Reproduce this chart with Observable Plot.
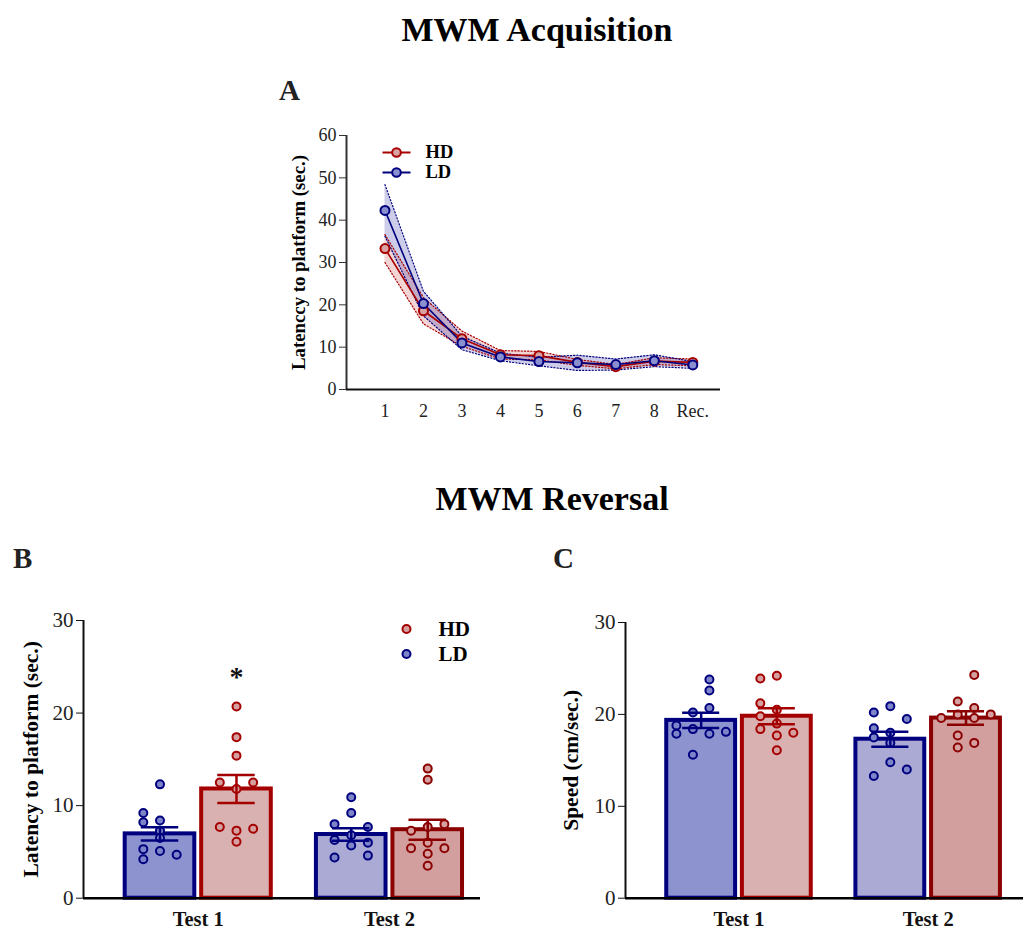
<!DOCTYPE html>
<html><head><meta charset="utf-8">
<script src="https://cdn.jsdelivr.net/npm/d3@7"></script>
<script src="https://cdn.jsdelivr.net/npm/@observablehq/plot@0.6"></script>
<style>
body{margin:0;background:#fff;}
#page{position:relative;width:1028px;height:930px;font-family:"Liberation Serif","Times New Roman",serif;color:#000;overflow:hidden;}
.title{position:absolute;text-align:center;font-weight:bold;font-size:34px;line-height:1;}
.letter{position:absolute;font-weight:bold;font-size:29px;line-height:1;color:#222;}
.panel{position:absolute;}
.panel svg{overflow:visible;}
</style></head><body>
<div id="page">
  <div class="title" style="left:0;width:1074px;top:13px;">MWM Acquisition</div>
  <div class="letter" style="left:279px;top:76px;">A</div>
  <div id="panelA" class="panel" style="left:250px;top:120px;"></div>
  <div class="title" style="left:0;width:1104px;top:482px;">MWM Reversal</div>
  <div class="letter" style="left:13px;top:544px;">B</div>
  <div class="letter" style="left:553px;top:544px;">C</div>
  <div id="panelB" class="panel" style="left:0px;top:600px;"></div>
  <div id="panelC" class="panel" style="left:540px;top:600px;"></div>
</div>
<script>
// ---------------- DATA ----------------
// Panel A: acquisition latency (mean ± SEM)
const sessions = ["1","2","3","4","5","6","7","8","Rec."];
const acqHDMean = [33.3, 18.6, 12.0, 8.2, 8.0, 6.4, 5.4, 6.7, 6.4];
const acqHDSem  = [3.3, 3.1, 1.8, 1.0, 1.0, 0.7, 0.5, 0.8, 0.8];
const acqLDMean = [42.3, 20.3, 11.0, 7.7, 6.6, 6.3, 5.9, 6.8, 5.8];
const acqLDSem  = [6.1, 2.9, 1.6, 0.9, 1.0, 1.8, 1.3, 1.4, 0.8];

const groups = ["LD", "HD"];
const tests = ["Test 1", "Test 2"];

// Panel B: reversal latency (individual animals; column = swarm column index)
const latLDTest1 = [12.3, 9.2, 8.2, 8.4, 7.3, 6.5, 5.3, 5.1, 4.7, 4.2];
const latLDTest1Col = [0, -1, -1, 0, 0, 0, -1, 0, 1, -1];
const latHDTest1 = [20.7, 17.4, 15.4, 12.5, 12.5, 11.8, 7.7, 7.5, 7.3, 6.1];
const latHDTest1Col = [0, 0, 0, -1, 1, 0, -1, 1, 0, 0];
const latLDTest2 = [10.9, 9.2, 8.0, 7.7, 6.8, 6.3, 6.0, 5.7, 4.4, 4.6];
const latLDTest2Col = [0, 0, -1, 1, 0, -1, 1, 0, -1, 1];
const latHDTest2 = [14.0, 12.8, 7.3, 7.7, 8.0, 5.4, 5.4, 6.0, 4.8, 3.5];
const latHDTest2Col = [0, 0, -1, 0, 1, -1, 1, 0, 0, 0];
const latMeanLD = [6.95, 6.88];
const latSemLD  = [0.72, 0.68];
const latMeanHD = [11.8, 7.4];
const latSemHD  = [1.52, 1.08];
const latSigTest = ["Test 1"];
const latSigGroup = ["HD"];

// Panel C: reversal swim speed
const spdLDTest1 = [23.8, 22.6, 20.7, 20.2, 18.8, 18.4, 17.9, 17.9, 18.1, 15.6];
const spdLDTest1Col = [0.5, 0.5, 0.5, -0.5, -1.5, -0.5, -1.5, 0.5, 1.5, -0.5];
const spdHDTest1 = [23.9, 24.2, 21.2, 20.5, 19.8, 19.0, 18.4, 17.7, 18.0, 16.1];
const spdHDTest1Col = [-1, 0, -1, 0, -1, 0, -1, 0, 1, 0];
const spdLDTest2 = [20.2, 20.9, 19.5, 18.5, 17.5, 18.0, 16.9, 14.8, 14.0, 13.3];
const spdLDTest2Col = [-1, 0, 1, -1, -1, 0, 0, 0, 1, -1];
const spdHDTest2 = [24.3, 21.4, 20.7, 19.6, 20.0, 19.6, 20.0, 17.7, 16.4, 16.9];
const spdHDTest2Col = [0.5, -0.5, 0.5, -1.5, -0.5, 0.5, 1.5, -0.5, -0.5, 0.5];
const spdMeanLD = [19.35, 17.3];
const spdSemLD  = [0.82, 0.82];
const spdMeanHD = [19.8, 19.6];
const spdSemHD  = [0.87, 0.73];

// ---------------- STYLE ----------------
const FONT = "Liberation Serif, Times New Roman, serif";
const lineCol = {HD: "#a80000", LD: "#00007f"};
const markerFill = {HD: "#d9a3a3", LD: "#8a8fd0"};
const bandFill = {HD: "#b30000", LD: "#1a1a9a"};
const barFill = {LD: ["#8c93cf", "#aaaad4"], HD: ["#d9b1b1", "#d29e9e"]};
const barStroke = {LD: ["#00007f", "#00007f"], HD: ["#a50000", "#8b0000"]};
const dotFill = {LD: "#7d84c8", HD: "#d6a0a0"};
const TEST_GAP = 2.5;   // position spacing between test clusters (in bar units)
const COL_STEP = 0.218; // swarm column width (in bar units)

// ---------------- PANEL A ----------------
function rowsA(name, mean, sem) {
  return sessions.map((s, i) => ({group: name, x: i + 1, y: mean[i], lo: mean[i] - sem[i], hi: mean[i] + sem[i]}));
}
const acqRows = {HD: rowsA("HD", acqHDMean, acqHDSem), LD: rowsA("LD", acqLDMean, acqLDSem)};
const lineSym = {draw(ctx) { ctx.moveTo(-14, 0); ctx.lineTo(14, 0); }};
const legendOrder = ["HD", "LD"];

const marksA = [];
for (const g of ["HD", "LD"]) {
  marksA.push(Plot.areaY(acqRows[g], {x: "x", y1: "lo", y2: "hi", fill: bandFill[g], fillOpacity: g === "LD" ? 0.22 : 0.17}));
}
for (const g of ["HD", "LD"]) {
  marksA.push(Plot.line(acqRows[g], {x: "x", y: "hi", stroke: lineCol[g], strokeWidth: 1.2, strokeDasharray: "1.2,2"}));
  marksA.push(Plot.line(acqRows[g], {x: "x", y: "lo", stroke: lineCol[g], strokeWidth: 1.2, strokeDasharray: "1.2,2"}));
}
for (const g of ["HD", "LD"]) {
  marksA.push(Plot.line(acqRows[g], {x: "x", y: "y", stroke: lineCol[g], strokeWidth: 1.6}));
}
for (const g of ["HD", "LD"]) {
  marksA.push(Plot.dot(acqRows[g], {x: "x", y: "y", r: 4.5, fill: markerFill[g], stroke: lineCol[g], strokeWidth: 2}));
}
legendOrder.forEach((g, i) => {
  marksA.push(Plot.dot([g], {frameAnchor: "top-left", dx: 50, dy: 17 + i * 20, symbol: lineSym, r: 5, fill: "none", stroke: lineCol[g], strokeWidth: 2}));
  marksA.push(Plot.dot([g], {frameAnchor: "top-left", dx: 50, dy: 17 + i * 20, r: 4.3, fill: markerFill[g], stroke: lineCol[g], strokeWidth: 2}));
  marksA.push(Plot.text([g], {frameAnchor: "top-left", dx: 79, dy: 17 + i * 20, text: d => d, textAnchor: "start", lineAnchor: "middle", fontWeight: "bold", fontSize: 18.5, fill: "#000"}));
});
marksA.push(
  Plot.ruleX([0], {stroke: "#333", strokeWidth: 2}),
  Plot.ruleY([0], {stroke: "#111", strokeWidth: 2.2}),
  Plot.axisY({ticks: d3.range(0, 61, 10), tickSize: 7, tickPadding: 3, fontSize: 18, label: null, stroke: "#333", fill: "#222"}),
  Plot.axisX({ticks: sessions.map((s, i) => i + 1), tickFormat: v => sessions[v - 1], tickSize: 0, tickPadding: 15, fontSize: 18, label: null, fill: "#222"}),
  Plot.text(["Latenccy to platform (sec.)"], {frameAnchor: "left", rotate: -90, dx: -48, text: d => d, textAnchor: "middle", lineAnchor: "middle", fontWeight: "bold", fontSize: 18.8, fill: "#000"})
);

const chartA = Plot.plot({
  width: 480, height: 300,
  marginLeft: 96, marginRight: 10, marginTop: 15, marginBottom: 31,
  style: {fontFamily: FONT, background: "transparent", overflow: "visible"},
  x: {domain: [0, 9.72]},
  y: {domain: [0, 60]},
  marks: marksA
});
document.getElementById("panelA").appendChild(chartA);

// ---------------- PANELS B & C ----------------
function buildBarPanel(cfg) {
  const bars = [];
  const pts = [];
  tests.forEach((t, ti) => {
    groups.forEach((g, gi) => {
      const pos = ti * TEST_GAP + gi;
      bars.push({test: t, group: g, pos, mean: cfg.means[g][ti], sem: cfg.sems[g][ti],
                 fill: barFill[g][ti], stroke: barStroke[g][ti]});
      const vals = cfg.values[g][ti], cols = cfg.cols[g][ti];
      vals.forEach((v, k) => pts.push({test: t, group: g, pos, v, col: cols[k], fill: dotFill[g], stroke: barStroke[g][ti]}));
    });
  });
  const sig = (cfg.sigTest || []).map((t, i) => {
    const b = bars.find(d => d.test === t && d.group === cfg.sigGroup[i]);
    const top = d3.max(pts.filter(p => p.test === t && p.group === b.group), p => p.v);
    return {pos: b.pos, top};
  });
  const marks = [
    Plot.rectY(bars, {x1: d => d.pos - 0.455, x2: d => d.pos + 0.455, y1: 0, y2: "mean", fill: "fill", stroke: "stroke", strokeWidth: 4}),
    Plot.dot(pts, {x: d => d.pos + d.col * COL_STEP, y: "v", r: 4, fill: "fill", stroke: "stroke", strokeWidth: 2}),
    Plot.ruleX(bars, {x: "pos", y1: d => d.mean - d.sem, y2: d => d.mean + d.sem, stroke: "stroke", strokeWidth: 2.5}),
    Plot.ruleY(bars, {y: d => d.mean + d.sem, x1: d => d.pos - 0.245, x2: d => d.pos + 0.245, stroke: "stroke", strokeWidth: 2.5}),
    Plot.ruleY(bars, {y: d => d.mean - d.sem, x1: d => d.pos - 0.245, x2: d => d.pos + 0.245, stroke: "stroke", strokeWidth: 2.5}),
    Plot.text(sig, {x: "pos", y: "top", text: () => "*", dy: -30, fontSize: 28, fontWeight: "bold", fill: "#111"}),
    Plot.ruleX([cfg.xDomain[0]], {stroke: "#111", strokeWidth: 2}),
    Plot.ruleY([0], {stroke: "#000", strokeWidth: 2.5}),
    Plot.axisY({ticks: [0, 10, 20, 30], tickSize: 7, tickPadding: 3, fontSize: 21, label: null, stroke: "#111", fill: "#222"}),
    Plot.axisX({ticks: tests.map((t, i) => i * TEST_GAP + 0.5), tickFormat: v => tests[Math.round((v - 0.5) / TEST_GAP)],
                tickSize: 0, tickPadding: 13, fontSize: 20.5, fontWeight: "bold", label: null, fill: "#111"}),
    Plot.text([cfg.yLabel], {frameAnchor: "left", rotate: -90, dx: cfg.labelDx, text: d => d, textAnchor: "middle", lineAnchor: "middle", fontWeight: "bold", fontSize: 21.5, fill: "#000"})
  ];
  if (cfg.legend) {
    ["HD", "LD"].forEach((g, i) => {
      marks.push(Plot.dot([g], {frameAnchor: "top-left", dx: cfg.legendDx, dy: cfg.legendDy + i * 25, r: 4, fill: dotFill[g], stroke: barStroke[g][0], strokeWidth: 2}));
      marks.push(Plot.text([g], {frameAnchor: "top-left", dx: cfg.legendDx + 32, dy: cfg.legendDy + i * 25, text: d => d, textAnchor: "start", lineAnchor: "middle", fontWeight: "bold", fontSize: 21, fill: "#000"}));
    });
  }
  return Plot.plot({
    width: cfg.width, height: 330,
    marginLeft: cfg.marginLeft, marginRight: cfg.marginRight, marginTop: cfg.marginTop, marginBottom: 32.3,
    style: {fontFamily: FONT, background: "transparent", overflow: "visible"},
    x: {domain: cfg.xDomain},
    y: {domain: [0, 30]},
    color: {type: "identity"},
    marks
  });
}

document.getElementById("panelB").appendChild(buildBarPanel({
  width: 490, marginLeft: 83, marginRight: 10, marginTop: 20, xDomain: [-1, 4.19],
  means: {LD: latMeanLD, HD: latMeanHD}, sems: {LD: latSemLD, HD: latSemHD},
  values: {LD: [latLDTest1, latLDTest2], HD: [latHDTest1, latHDTest2]},
  cols: {LD: [latLDTest1Col, latLDTest2Col], HD: [latHDTest1Col, latHDTest2Col]},
  sigTest: latSigTest, sigGroup: latSigGroup,
  yLabel: "Latency to platform (sec.)", labelDx: -52,
  legend: true, legendDx: 323, legendDy: 8.5
}));

document.getElementById("panelC").appendChild(buildBarPanel({
  width: 488, marginLeft: 85, marginRight: 5, marginTop: 22, xDomain: [-1, 4.26],
  means: {LD: spdMeanLD, HD: spdMeanHD}, sems: {LD: spdSemLD, HD: spdSemHD},
  values: {LD: [spdLDTest1, spdLDTest2], HD: [spdHDTest1, spdHDTest2]},
  cols: {LD: [spdLDTest1Col, spdLDTest2Col], HD: [spdHDTest1Col, spdHDTest2Col]},
  yLabel: "Speed (cm/sec.)", labelDx: -54,
  legend: false
}));
</script>
</body></html>
